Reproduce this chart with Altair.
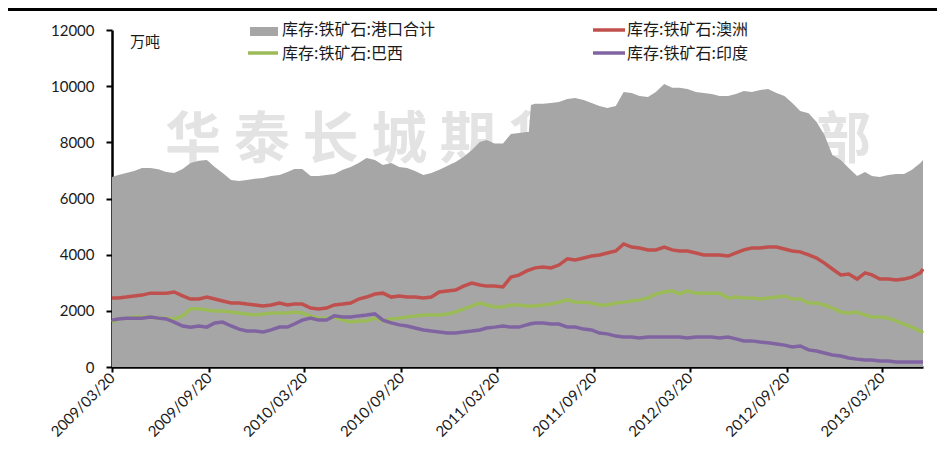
import altair as alt
import pandas as pd

# ---------------- data ----------------
dates = [
    "2009-03-20", "2009-04-01", "2009-04-16", "2009-05-01", "2009-05-16", "2009-06-01", "2009-06-16",
    "2009-07-01", "2009-07-16", "2009-08-01", "2009-08-16", "2009-09-01", "2009-09-16", "2009-10-01",
    "2009-10-16", "2009-11-01", "2009-11-16", "2009-12-01", "2009-12-16",
    "2010-01-01", "2010-01-16", "2010-02-01", "2010-02-16", "2010-03-01", "2010-03-16", "2010-04-01",
    "2010-04-16", "2010-05-01", "2010-05-16", "2010-06-01", "2010-06-16", "2010-07-01", "2010-07-16",
    "2010-08-01", "2010-08-16", "2010-09-01", "2010-09-16", "2010-10-01", "2010-10-16", "2010-11-01",
    "2010-11-16", "2010-12-01", "2010-12-16",
    "2011-01-01", "2011-01-16", "2011-02-01", "2011-02-16", "2011-03-01", "2011-03-16", "2011-04-01",
    "2011-04-16", "2011-05-01", "2011-05-16", "2011-05-20", "2011-05-24", "2011-06-01", "2011-06-16",
    "2011-07-01", "2011-07-16", "2011-08-01", "2011-08-16", "2011-09-01", "2011-09-16", "2011-10-01",
    "2011-10-16", "2011-11-01", "2011-11-16", "2011-12-01", "2011-12-16",
    "2012-01-01", "2012-01-16", "2012-02-01", "2012-02-16", "2012-03-01", "2012-03-16", "2012-04-01",
    "2012-04-16", "2012-05-01", "2012-05-16", "2012-06-01", "2012-06-16", "2012-07-01", "2012-07-16",
    "2012-08-01", "2012-08-16", "2012-09-01", "2012-09-16", "2012-10-01", "2012-10-16", "2012-11-01",
    "2012-11-16", "2012-12-01", "2012-12-16",
    "2013-01-01", "2013-01-16", "2013-02-01", "2013-02-16", "2013-03-01", "2013-03-16", "2013-04-01",
    "2013-04-16", "2013-05-01", "2013-05-16", "2013-06-01", "2013-06-06",
]

port_total = [
    6770, 6840, 6910, 6980, 7090, 7090, 7040, 6940, 6910, 7050, 7260, 7340, 7370, 7120, 6910, 6660, 6620, 6660, 6700,
    6730, 6800, 6840, 6940, 7050, 7050, 6800, 6800, 6840, 6870, 7020, 7120, 7260, 7440, 7370, 7190, 7260, 7120,
    7090, 6980, 6840, 6910, 7020, 7160,
    7300, 7480, 7730, 8010, 8080, 7960, 7960, 8300, 8330, 8370, 8370, 9330, 9370, 9370, 9400, 9440, 9540, 9580,
    9510, 9400, 9290, 9220, 9290, 9790, 9760, 9650,
    9610, 9790, 10080, 9940, 9940, 9900, 9790, 9760, 9720, 9650, 9650, 9720, 9830, 9790, 9860, 9900, 9760, 9650,
    9400, 9120, 9040, 8720, 8260, 7550,
    7370, 7090, 6800, 6940, 6800, 6770, 6840, 6870, 6870, 7020, 7260, 7370,
]

australia = [
    2460, 2460, 2490, 2530, 2560, 2630, 2630, 2630, 2670, 2530, 2420, 2420, 2490, 2420, 2350, 2280, 2280, 2240, 2210,
    2170, 2210, 2280, 2210, 2240, 2240, 2100, 2070, 2100, 2210, 2240, 2280, 2420, 2490, 2600, 2630, 2490, 2530,
    2490, 2490, 2460, 2490, 2670, 2710,
    2740, 2880, 2990, 2920, 2880, 2880, 2850, 3200, 3270, 3420, 3450, 3480, 3530, 3560, 3530, 3630, 3850, 3810,
    3880, 3950, 3990, 4060, 4130, 4380, 4270, 4240,
    4170, 4170, 4270, 4170, 4130, 4130, 4060, 3990, 3990, 3990, 3950, 4060, 4170, 4240, 4240, 4270, 4270, 4200,
    4130, 4100, 3990, 3880, 3700, 3490,
    3280, 3310, 3130, 3350, 3280, 3130, 3130, 3100, 3130, 3200, 3350, 3490,
]

brazil = [
    1600, 1710, 1740, 1780, 1780, 1780, 1740, 1740, 1710, 1820, 2070, 2070, 2030, 1990, 1990, 1960, 1920, 1890, 1850,
    1890, 1920, 1920, 1920, 1960, 1920, 1820, 1740, 1740, 1780, 1670, 1600, 1640, 1640, 1740, 1640, 1710, 1740,
    1780, 1820, 1850, 1850, 1850, 1890,
    1960, 2070, 2170, 2280, 2210, 2140, 2140, 2210, 2210, 2170, 2170, 2170, 2170, 2210, 2240, 2310, 2390, 2310,
    2310, 2280, 2210, 2210, 2280, 2310, 2350, 2390,
    2460, 2600, 2670, 2710, 2600, 2710, 2630, 2630, 2630, 2630, 2460, 2490, 2460, 2460, 2420, 2460, 2490, 2530,
    2420, 2420, 2280, 2280, 2210, 2100,
    1960, 1920, 1960, 1850, 1780, 1780, 1740, 1640, 1530, 1420, 1280, 1210,
]

india = [
    1670, 1710, 1740, 1740, 1740, 1780, 1740, 1710, 1600, 1460, 1420, 1460, 1420, 1570, 1600, 1460, 1350, 1280, 1280,
    1250, 1320, 1420, 1420, 1530, 1670, 1740, 1670, 1670, 1820, 1780, 1780, 1820, 1850, 1890, 1670, 1570, 1500,
    1460, 1390, 1320, 1280, 1250, 1210,
    1210, 1250, 1280, 1320, 1390, 1420, 1460, 1420, 1420, 1500, 1520, 1540, 1570, 1570, 1530, 1530, 1420, 1420,
    1350, 1320, 1210, 1180, 1100, 1070, 1070, 1030,
    1070, 1070, 1070, 1070, 1070, 1030, 1070, 1070, 1070, 1030, 1070, 1000, 930, 930, 890, 860, 820, 780,
    710, 750, 610, 570, 500, 430,
    390, 320, 280, 250, 250, 210, 210, 180, 180, 180, 180, 180,
]

tick_dates = [(2009, 3, 20), (2009, 9, 20), (2010, 3, 20), (2010, 9, 20), (2011, 3, 20),
              (2011, 9, 20), (2012, 3, 20), (2012, 9, 20), (2013, 3, 20)]
x_domain = [(2009, 3, 20), (2013, 6, 6)]
y_ticks = [0, 2000, 4000, 6000, 8000, 10000, 12000]

legend_labels = ["库存:铁矿石:港口合计", "库存:铁矿石:澳洲", "库存:铁矿石:巴西", "库存:铁矿石:印度"]
unit_label = "万吨"
watermark = ["华 泰 长 城 期 货", "研 究 部"]

C_TOTAL = "#a6a6a6"
C_AUS = "#c0504d"
C_BRA = "#9bbb59"
C_IND = "#8064a2"
CJK = "Noto Sans CJK SC"

# ---------------- chart ----------------
df = pd.DataFrame({"date": dates, "total": port_total, "aus": australia, "bra": brazil, "ind": india})
one = pd.DataFrame({"k": [0]})


def dt(t):
    return alt.DateTime(year=t[0], month=t[1], date=t[2], utc=True)


x_enc = alt.X(
    "date:T",
    title=None,
    scale=alt.Scale(type="utc", domain=[dt(t) for t in x_domain]),
    axis=alt.Axis(
        values=[dt(t) for t in tick_dates],
        labelExpr="utcFormat(datum.value, '%Y/%m/%d')",
        labelAngle=315,
        labelAlign="right",
        labelBaseline="middle",
        labelPadding=3,
        tickSize=5,
        grid=False,
        labelOverlap=False,
    ),
)
y_scale = alt.Scale(domain=[0, 12000], nice=False, zero=True)
y_enc = alt.Y(
    "total:Q",
    title=None,
    scale=y_scale,
    axis=alt.Axis(values=y_ticks, grid=False, tickSize=6, labelPadding=12, format="d"),
)

area = alt.Chart(df).mark_area(color=C_TOTAL, opacity=1).encode(x=x_enc, y=y_enc)


def series_line(field, color):
    return alt.Chart(df).mark_line(color=color, strokeWidth=3.5).encode(
        x=alt.X("date:T"), y=alt.Y(f"{field}:Q", scale=y_scale)
    )


l_aus = series_line("aus", C_AUS)
l_bra = series_line("bra", C_BRA)
l_ind = series_line("ind", C_IND)

wm_a = alt.Chart(one).mark_text(
    align="left", baseline="middle", font=CJK, fontSize=56, fontWeight="bold", color="#e3e3e3"
).encode(x=alt.value(53), y=alt.value(111), text=alt.value(watermark[0]))
wm_b = alt.Chart(one).mark_text(
    align="right", baseline="middle", font=CJK, fontSize=56, fontWeight="bold", color="#e3e3e3"
).encode(x=alt.value(759), y=alt.value(111), text=alt.value(watermark[1]))

top_line = alt.Chart(one).mark_rule(color="#000000", strokeWidth=3).encode(
    x=alt.value(-104), x2=alt.value(825), y=alt.value(-20.5)
)

sw_total = alt.Chart(one).mark_rect(color=C_TOTAL).encode(
    x=alt.value(138), x2=alt.value(166), y=alt.value(-3), y2=alt.value(6)
)


def sw_line(x1, x2, y, color):
    return alt.Chart(one).mark_rule(color=color, strokeWidth=3.5).encode(
        x=alt.value(x1), x2=alt.value(x2), y=alt.value(y)
    )


def label(x, y, txt, size=16):
    return alt.Chart(one).mark_text(
        align="left", baseline="middle", font=CJK, fontSize=size, color="#1a1a1a"
    ).encode(x=alt.value(x), y=alt.value(y), text=alt.value(txt))


legend = [
    sw_total, label(170, 0, legend_labels[0]),
    sw_line(481, 513, 0, C_AUS), label(515, 0, legend_labels[1]),
    sw_line(136, 166, 23, C_BRA), label(170, 24, legend_labels[2]),
    sw_line(481, 513, 23, C_IND), label(515, 24, legend_labels[3]),
    label(18, 12, unit_label, 15),
]

chart = alt.layer(
    wm_a, wm_b, area, l_aus, l_bra, l_ind, top_line, *legend
).properties(
    width=811,
    height=337,
    autosize=alt.AutoSizeParams(type="none"),
    padding={"left": 104, "top": 22, "right": 14, "bottom": 81},
    background="white",
).configure_view(stroke=None).configure_axis(
    domainColor="#000000",
    domainWidth=2.5,
    tickColor="#000000",
    tickWidth=2,
    labelFont="Lato",
    labelFontSize=15,
    labelColor="#1a1a1a",
)

chart.save("out.html", embed_options={"renderer": "svg", "actions": False})
